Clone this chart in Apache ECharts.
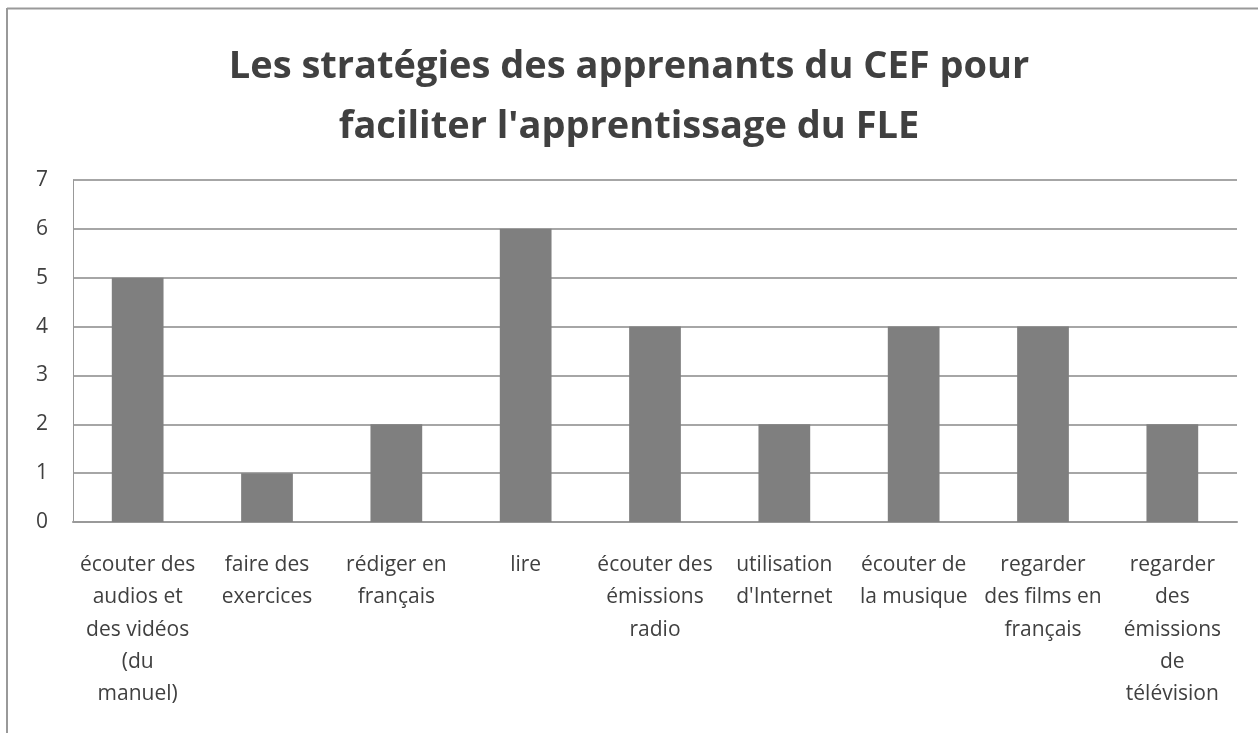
<!DOCTYPE html>
<html>
<head>
<meta charset="utf-8">
<script src="https://cdn.jsdelivr.net/npm/echarts@6/dist/echarts.min.js"></script>
<style>
  html, body { margin: 0; padding: 0; background: #fff; }
  #chart { width: 1258px; height: 733px; }
</style>
</head>
<body>
<div id="chart"></div>
<script>
var titleText = 'Les stratégies des apprenants du CEF pour\nfaciliter l\'apprentissage du FLE'
var categories = [
  'écouter des\naudios et\ndes vidéos\n(du\nmanuel)',
  'faire des\nexercices',
  'rédiger en\nfrançais',
  'lire',
  'écouter des\némissions\nradio',
  'utilisation\nd\'Internet',
  'écouter de\nla musique',
  'regarder\ndes films en\nfrançais',
  'regarder\ndes\némissions\nde\ntélévision'
]
var values = [5, 1, 2, 6, 4, 2, 4, 4, 2]

var chart = echarts.init(document.getElementById('chart'))
chart.setOption({
  animation: false,
  backgroundColor: '#fff',
  textStyle: { fontFamily: 'Open Sans' },
  title: {
    text: titleText,
    left: 'center',
    top: 32,
    textStyle: {
      fontFamily: 'Open Sans',
      fontSize: 38,
      fontWeight: 'bold',
      color: '#404040',
      lineHeight: 60
    }
  },
  graphic: [
    { type: 'line', shape: { x1: 7, y1: 8.5, x2: 1258, y2: 8.5 }, style: { stroke: '#999', lineWidth: 2 } },
    { type: 'line', shape: { x1: 7, y1: 8, x2: 7, y2: 733 }, style: { stroke: '#999', lineWidth: 2 } }
  ],
  grid: { left: 73, right: 21, top: 180, bottom: 211, containLabel: false },
  xAxis: {
    type: 'category',
    data: categories,
    axisLine: { lineStyle: { color: '#999', width: 2 } },
    axisTick: { show: false },
    axisLabel: {
      interval: 0,
      margin: 27,
      fontSize: 21,
      lineHeight: 32.3,
      color: '#404040',
      fontFamily: 'Open Sans'
    }
  },
  yAxis: {
    type: 'value',
    min: 0,
    max: 7,
    interval: 1,
    axisLine: { show: true, lineStyle: { color: '#999', width: 1 } },
    axisTick: { show: false },
    splitLine: { lineStyle: { color: '#a6a6a6', width: 2 } },
    axisLabel: {
      margin: 25,
      fontSize: 21,
      color: '#404040',
      fontFamily: 'Open Sans'
    }
  },
  series: [{
    type: 'bar',
    data: values,
    barWidth: '40%',
    itemStyle: { color: '#7f7f7f' }
  }]
})
</script>
</body>
</html>
